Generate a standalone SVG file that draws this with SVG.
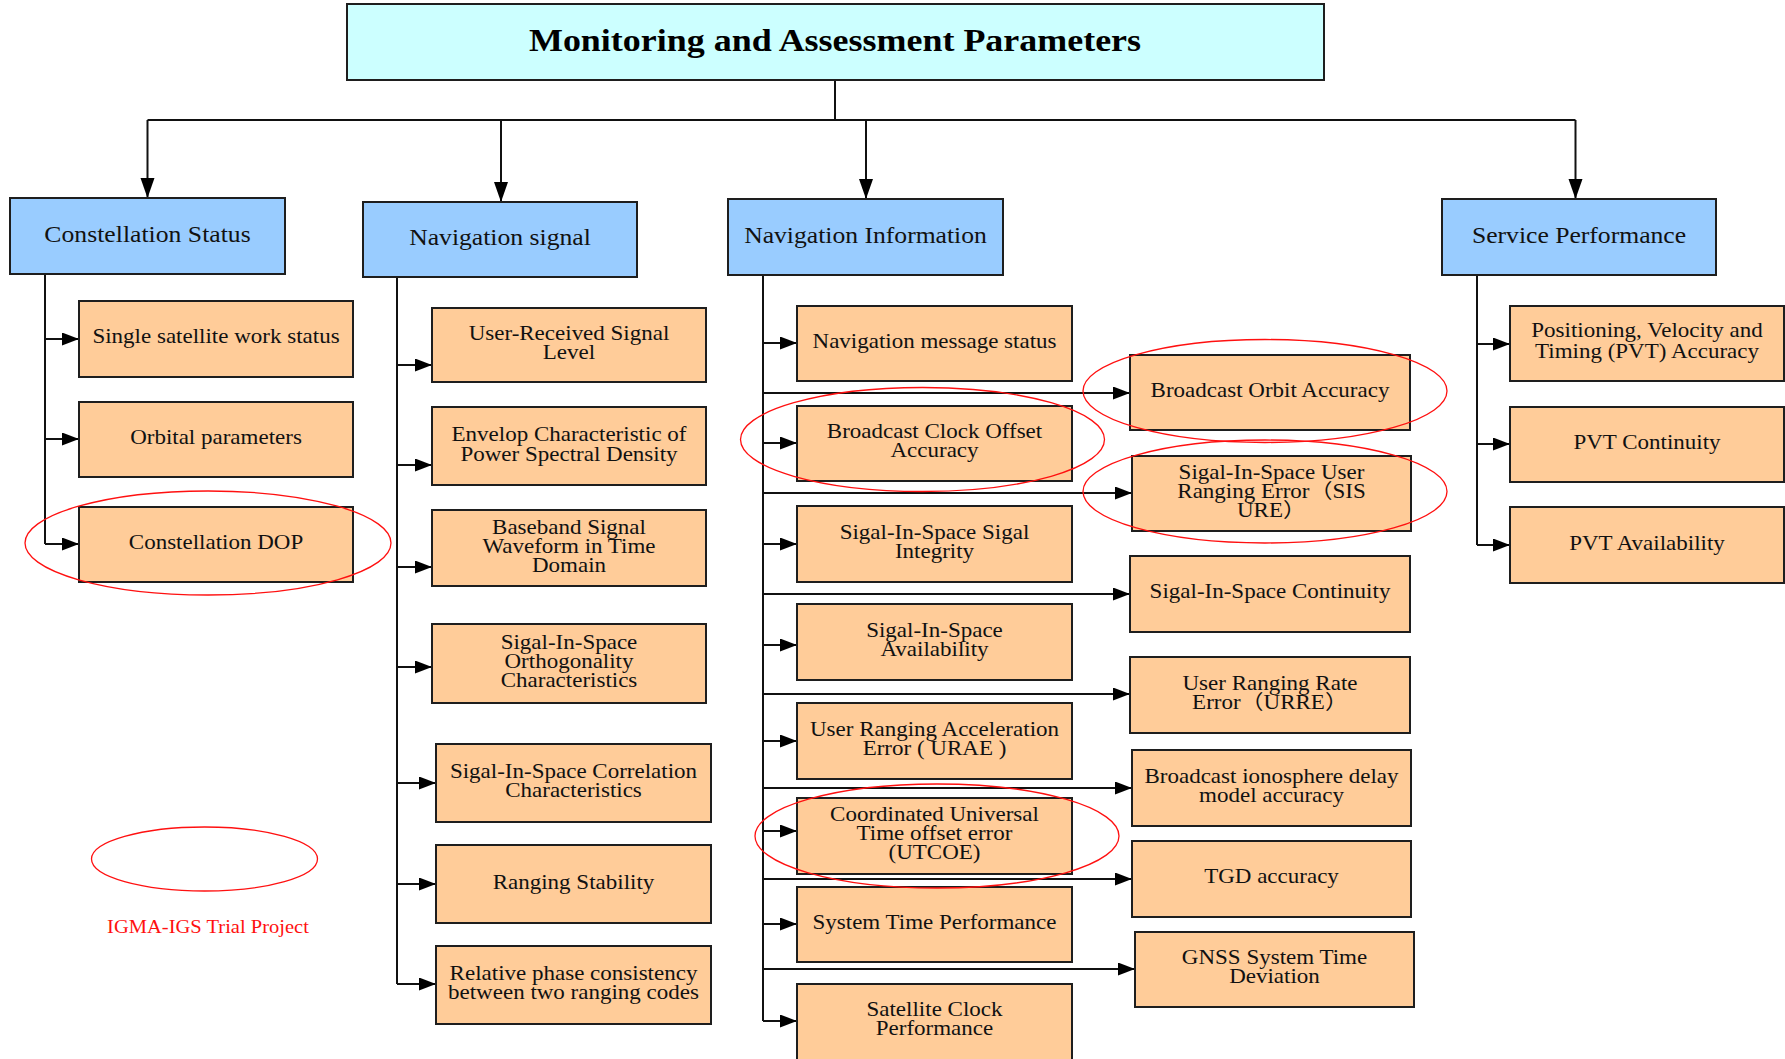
<svg xmlns="http://www.w3.org/2000/svg" width="1785" height="1059" viewBox="0 0 1785 1059">
<style>
.box{stroke:#1e1e1e;stroke-width:2}
.title{fill:#CCFFFF}
.head{fill:#99CCFF}
.leaf{fill:#FFCC99}
.t{font-family:"Liberation Serif","Noto Sans CJK SC",serif;font-size:20px;fill:#111;text-anchor:middle}
.h{font-family:"Liberation Serif",serif;font-size:22.5px;fill:#111;text-anchor:middle}
.tt{font-family:"Liberation Serif",serif;font-size:31px;font-weight:bold;fill:#000;text-anchor:middle}
.ln{fill:none;stroke:#111;stroke-width:2}
.el{fill:none;stroke:#FF1010;stroke-width:1.3}
.leg{font-family:"Liberation Serif",serif;font-size:18.5px;fill:#FF1010;text-anchor:middle}
</style>
<defs>
<marker id="a" markerUnits="userSpaceOnUse" markerWidth="18" markerHeight="14" refX="17" refY="6.5" orient="auto">
<path d="M0,0 L17,6.5 L0,13 z" fill="#000"/>
</marker>
<marker id="b" markerUnits="userSpaceOnUse" markerWidth="21" markerHeight="15" refX="20" refY="7" orient="auto">
<path d="M0,0 L20,7 L0,14 z" fill="#000"/>
</marker>
</defs>
<rect width="1785" height="1059" fill="#fff"/>

<g id="connectors">
<path class="ln" d="M835,80 V120 M147.5,120 H1575.5"/>
<path class="ln" marker-end="url(#b)" d="M147.5,120 V198"/>
<path class="ln" marker-end="url(#b)" d="M501,120 V202"/>
<path class="ln" marker-end="url(#b)" d="M866,120 V199"/>
<path class="ln" marker-end="url(#b)" d="M1575.5,120 V199"/>

<path class="ln" d="M45,274 V544"/>
<path class="ln" marker-end="url(#a)" d="M45,339 H79"/>
<path class="ln" marker-end="url(#a)" d="M45,439 H79"/>
<path class="ln" marker-end="url(#a)" d="M45,544 H79"/>

<path class="ln" d="M397,277 V984"/>
<path class="ln" marker-end="url(#a)" d="M397,365 H432"/>
<path class="ln" marker-end="url(#a)" d="M397,465 H432"/>
<path class="ln" marker-end="url(#a)" d="M397,567 H432"/>
<path class="ln" marker-end="url(#a)" d="M397,667 H432"/>
<path class="ln" marker-end="url(#a)" d="M397,783 H436"/>
<path class="ln" marker-end="url(#a)" d="M397,884 H436"/>
<path class="ln" marker-end="url(#a)" d="M397,984 H436"/>

<path class="ln" d="M763,275 V1021"/>
<path class="ln" marker-end="url(#a)" d="M763,343 H797"/>
<path class="ln" marker-end="url(#a)" d="M763,443 H797"/>
<path class="ln" marker-end="url(#a)" d="M763,544 H797"/>
<path class="ln" marker-end="url(#a)" d="M763,645 H797"/>
<path class="ln" marker-end="url(#a)" d="M763,741 H797"/>
<path class="ln" marker-end="url(#a)" d="M763,831 H797"/>
<path class="ln" marker-end="url(#a)" d="M763,924 H797"/>
<path class="ln" marker-end="url(#a)" d="M763,1021 H797"/>
<path class="ln" marker-end="url(#a)" d="M763,393 H1130"/>
<path class="ln" marker-end="url(#a)" d="M763,493 H1132"/>
<path class="ln" marker-end="url(#a)" d="M763,594 H1130"/>
<path class="ln" marker-end="url(#a)" d="M763,694 H1130"/>
<path class="ln" marker-end="url(#a)" d="M763,788 H1132"/>
<path class="ln" marker-end="url(#a)" d="M763,879 H1132"/>
<path class="ln" marker-end="url(#a)" d="M763,969 H1135"/>

<path class="ln" d="M1477,275 V545"/>
<path class="ln" marker-end="url(#a)" d="M1477,344 H1510"/>
<path class="ln" marker-end="url(#a)" d="M1477,444 H1510"/>
<path class="ln" marker-end="url(#a)" d="M1477,545 H1510"/>
</g>

<g id="title"><rect class="box title" x="347" y="4" width="977" height="76"/>
<text class="tt" transform="matrix(1.16 0 0 1 835 0)" x="0" y="51">Monitoring and Assessment Parameters</text></g>

<g id="h-constellation"><rect class="box head" x="10" y="198" width="275" height="76"/>
<text class="h" transform="matrix(1.14 0 0 1 147.5 0)" x="0" y="242.5" textLength="181" lengthAdjust="spacing">Constellation Status</text></g>
<g id="h-signal"><rect class="box head" x="363" y="202" width="274" height="75"/>
<text class="h" transform="matrix(1.14 0 0 1 500 0)" x="0" y="245">Navigation signal</text></g>
<g id="h-information"><rect class="box head" x="728" y="199" width="275" height="76"/>
<text class="h" transform="matrix(1.14 0 0 1 865.5 0)" x="0" y="243">Navigation Information</text></g>
<g id="h-service"><rect class="box head" x="1442" y="199" width="274" height="76"/>
<text class="h" transform="matrix(1.14 0 0 1 1579 0)" x="0" y="243">Service Performance</text></g>

<g id="c1"><rect class="box leaf" x="79" y="301" width="274" height="76"/>
<text class="t" transform="matrix(1.15 0 0 1 216 0)" x="0" y="343.5">Single satellite work status</text></g>
<g id="c2"><rect class="box leaf" x="79" y="402" width="274" height="75"/>
<text class="t" transform="matrix(1.15 0 0 1 216 0)" x="0" y="444.5">Orbital parameters</text></g>
<g id="c3"><rect class="box leaf" x="79" y="507" width="274" height="75"/>
<text class="t" transform="matrix(1.15 0 0 1 216 0)" x="0" y="549">Constellation DOP</text></g>

<g id="s1"><rect class="box leaf" x="432" y="308" width="274" height="74"/>
<text class="t" transform="matrix(1.15 0 0 1 569 0)"><tspan x="0" y="340.5">User-Received Signal</tspan><tspan x="0" y="359.5">Level</tspan></text></g>
<g id="s2"><rect class="box leaf" x="432" y="407" width="274" height="78"/>
<text class="t" transform="matrix(1.15 0 0 1 569 0)"><tspan x="0" y="441.5">Envelop Characteristic of</tspan><tspan x="0" y="461">Power Spectral Density</tspan></text></g>
<g id="s3"><rect class="box leaf" x="432" y="510" width="274" height="76"/>
<text class="t" transform="matrix(1.15 0 0 1 569 0)"><tspan x="0" y="534.5">Baseband Signal</tspan><tspan x="0" y="553.5">Waveform in Time</tspan><tspan x="0" y="572.5">Domain</tspan></text></g>
<g id="s4"><rect class="box leaf" x="432" y="624" width="274" height="79"/>
<text class="t" transform="matrix(1.15 0 0 1 569 0)"><tspan x="0" y="649.5">Sigal-In-Space</tspan><tspan x="0" y="668.5">Orthogonality</tspan><tspan x="0" y="687.5">Characteristics</tspan></text></g>
<g id="s5"><rect class="box leaf" x="436" y="744" width="275" height="78"/>
<text class="t" transform="matrix(1.15 0 0 1 573.5 0)"><tspan x="0" y="778">Sigal-In-Space Correlation</tspan><tspan x="0" y="797.5">Characteristics</tspan></text></g>
<g id="s6"><rect class="box leaf" x="436" y="845" width="275" height="78"/>
<text class="t" transform="matrix(1.15 0 0 1 573.5 0)" x="0" y="889">Ranging Stability</text></g>
<g id="s7"><rect class="box leaf" x="436" y="946" width="275" height="78"/>
<text class="t" transform="matrix(1.15 0 0 1 573.5 0)"><tspan x="0" y="980">Relative phase consistency</tspan><tspan x="0" y="999">between two ranging codes</tspan></text></g>

<g id="n1"><rect class="box leaf" x="797" y="306" width="275" height="75"/>
<text class="t" transform="matrix(1.15 0 0 1 934.5 0)" x="0" y="348">Navigation message status</text></g>
<g id="n2"><rect class="box leaf" x="797" y="406" width="275" height="75"/>
<text class="t" transform="matrix(1.15 0 0 1 934.5 0)"><tspan x="0" y="438">Broadcast Clock Offset</tspan><tspan x="0" y="457.5">Accuracy</tspan></text></g>
<g id="n3"><rect class="box leaf" x="797" y="506" width="275" height="76"/>
<text class="t" transform="matrix(1.15 0 0 1 934.5 0)"><tspan x="0" y="539">Sigal-In-Space Sigal</tspan><tspan x="0" y="558">Integrity</tspan></text></g>
<g id="n4"><rect class="box leaf" x="797" y="604" width="275" height="76"/>
<text class="t" transform="matrix(1.15 0 0 1 934.5 0)"><tspan x="0" y="637">Sigal-In-Space</tspan><tspan x="0" y="656">Availability</tspan></text></g>
<g id="n5"><rect class="box leaf" x="797" y="703" width="275" height="76"/>
<text class="t" transform="matrix(1.15 0 0 1 934.5 0)"><tspan x="0" y="736">User Ranging Acceleration</tspan><tspan x="0" y="755">Error ( URAE )</tspan></text></g>
<g id="n6"><rect class="box leaf" x="797" y="798" width="275" height="76"/>
<text class="t" transform="matrix(1.15 0 0 1 934.5 0)"><tspan x="0" y="821.5">Coordinated Universal</tspan><tspan x="0" y="840.5">Time offset error</tspan><tspan x="0" y="859.5">(UTCOE)</tspan></text></g>
<g id="n7"><rect class="box leaf" x="797" y="887" width="275" height="75"/>
<text class="t" transform="matrix(1.15 0 0 1 934.5 0)" x="0" y="929">System Time Performance</text></g>
<g id="n8"><rect class="box leaf" x="797" y="984" width="275" height="76"/>
<text class="t" transform="matrix(1.15 0 0 1 934.5 0)"><tspan x="0" y="1016.5">Satellite Clock</tspan><tspan x="0" y="1035.5">Performance</tspan></text></g>

<g id="r1"><rect class="box leaf" x="1130" y="355" width="280" height="75"/>
<text class="t" transform="matrix(1.15 0 0 1 1270 0)" x="0" y="397">Broadcast Orbit Accuracy</text></g>
<g id="r2"><rect class="box leaf" x="1132" y="456" width="279" height="75"/>
<text class="t" transform="matrix(1.15 0 0 1 1271.5 0)"><tspan x="0" y="479">Sigal-In-Space User</tspan><tspan x="0" y="498">Ranging Error（SIS</tspan><tspan x="0" y="517">URE）</tspan></text></g>
<g id="r3"><rect class="box leaf" x="1130" y="556" width="280" height="76"/>
<text class="t" transform="matrix(1.15 0 0 1 1270 0)" x="0" y="598.5">Sigal-In-Space Continuity</text></g>
<g id="r4"><rect class="box leaf" x="1130" y="657" width="280" height="76"/>
<text class="t" transform="matrix(1.15 0 0 1 1270 0)"><tspan x="0" y="690">User Ranging Rate</tspan><tspan x="0" y="709.5">Error（URRE）</tspan></text></g>
<g id="r5"><rect class="box leaf" x="1132" y="750" width="279" height="76"/>
<text class="t" transform="matrix(1.15 0 0 1 1271.5 0)"><tspan x="0" y="783">Broadcast ionosphere delay</tspan><tspan x="0" y="802">model accuracy</tspan></text></g>
<g id="r6"><rect class="box leaf" x="1132" y="841" width="279" height="76"/>
<text class="t" transform="matrix(1.15 0 0 1 1271.5 0)" x="0" y="883.5">TGD accuracy</text></g>
<g id="r7"><rect class="box leaf" x="1135" y="932" width="279" height="75"/>
<text class="t" transform="matrix(1.15 0 0 1 1274.5 0)"><tspan x="0" y="964.5">GNSS System Time</tspan><tspan x="0" y="983.5">Deviation</tspan></text></g>

<g id="p1"><rect class="box leaf" x="1510" y="306" width="274" height="75"/>
<text class="t" transform="matrix(1.15 0 0 1 1647 0)"><tspan x="0" y="337.5">Positioning, Velocity and</tspan><tspan x="0" y="358">Timing (PVT) Accuracy</tspan></text></g>
<g id="p2"><rect class="box leaf" x="1510" y="407" width="274" height="75"/>
<text class="t" transform="matrix(1.15 0 0 1 1647 0)" x="0" y="449.5">PVT Continuity</text></g>
<g id="p3"><rect class="box leaf" x="1510" y="507" width="274" height="76"/>
<text class="t" transform="matrix(1.15 0 0 1 1647 0)" x="0" y="550">PVT Availability</text></g>

<g id="highlights">
<ellipse class="el" cx="208" cy="543" rx="183" ry="52"/>
<ellipse class="el" cx="922.5" cy="439.5" rx="182" ry="52"/>
<ellipse class="el" cx="1265" cy="391" rx="182" ry="51.5"/>
<ellipse class="el" cx="1265" cy="491.5" rx="182" ry="51.5"/>
<ellipse class="el" cx="937" cy="836" rx="182" ry="52"/>
</g>

<g id="legend">
<ellipse class="el" cx="204.5" cy="859" rx="113" ry="32"/>
<text class="leg" transform="matrix(1.11 0 0 1 208 0)" x="0" y="933">IGMA-IGS Trial Project</text>
</g>
</svg>
